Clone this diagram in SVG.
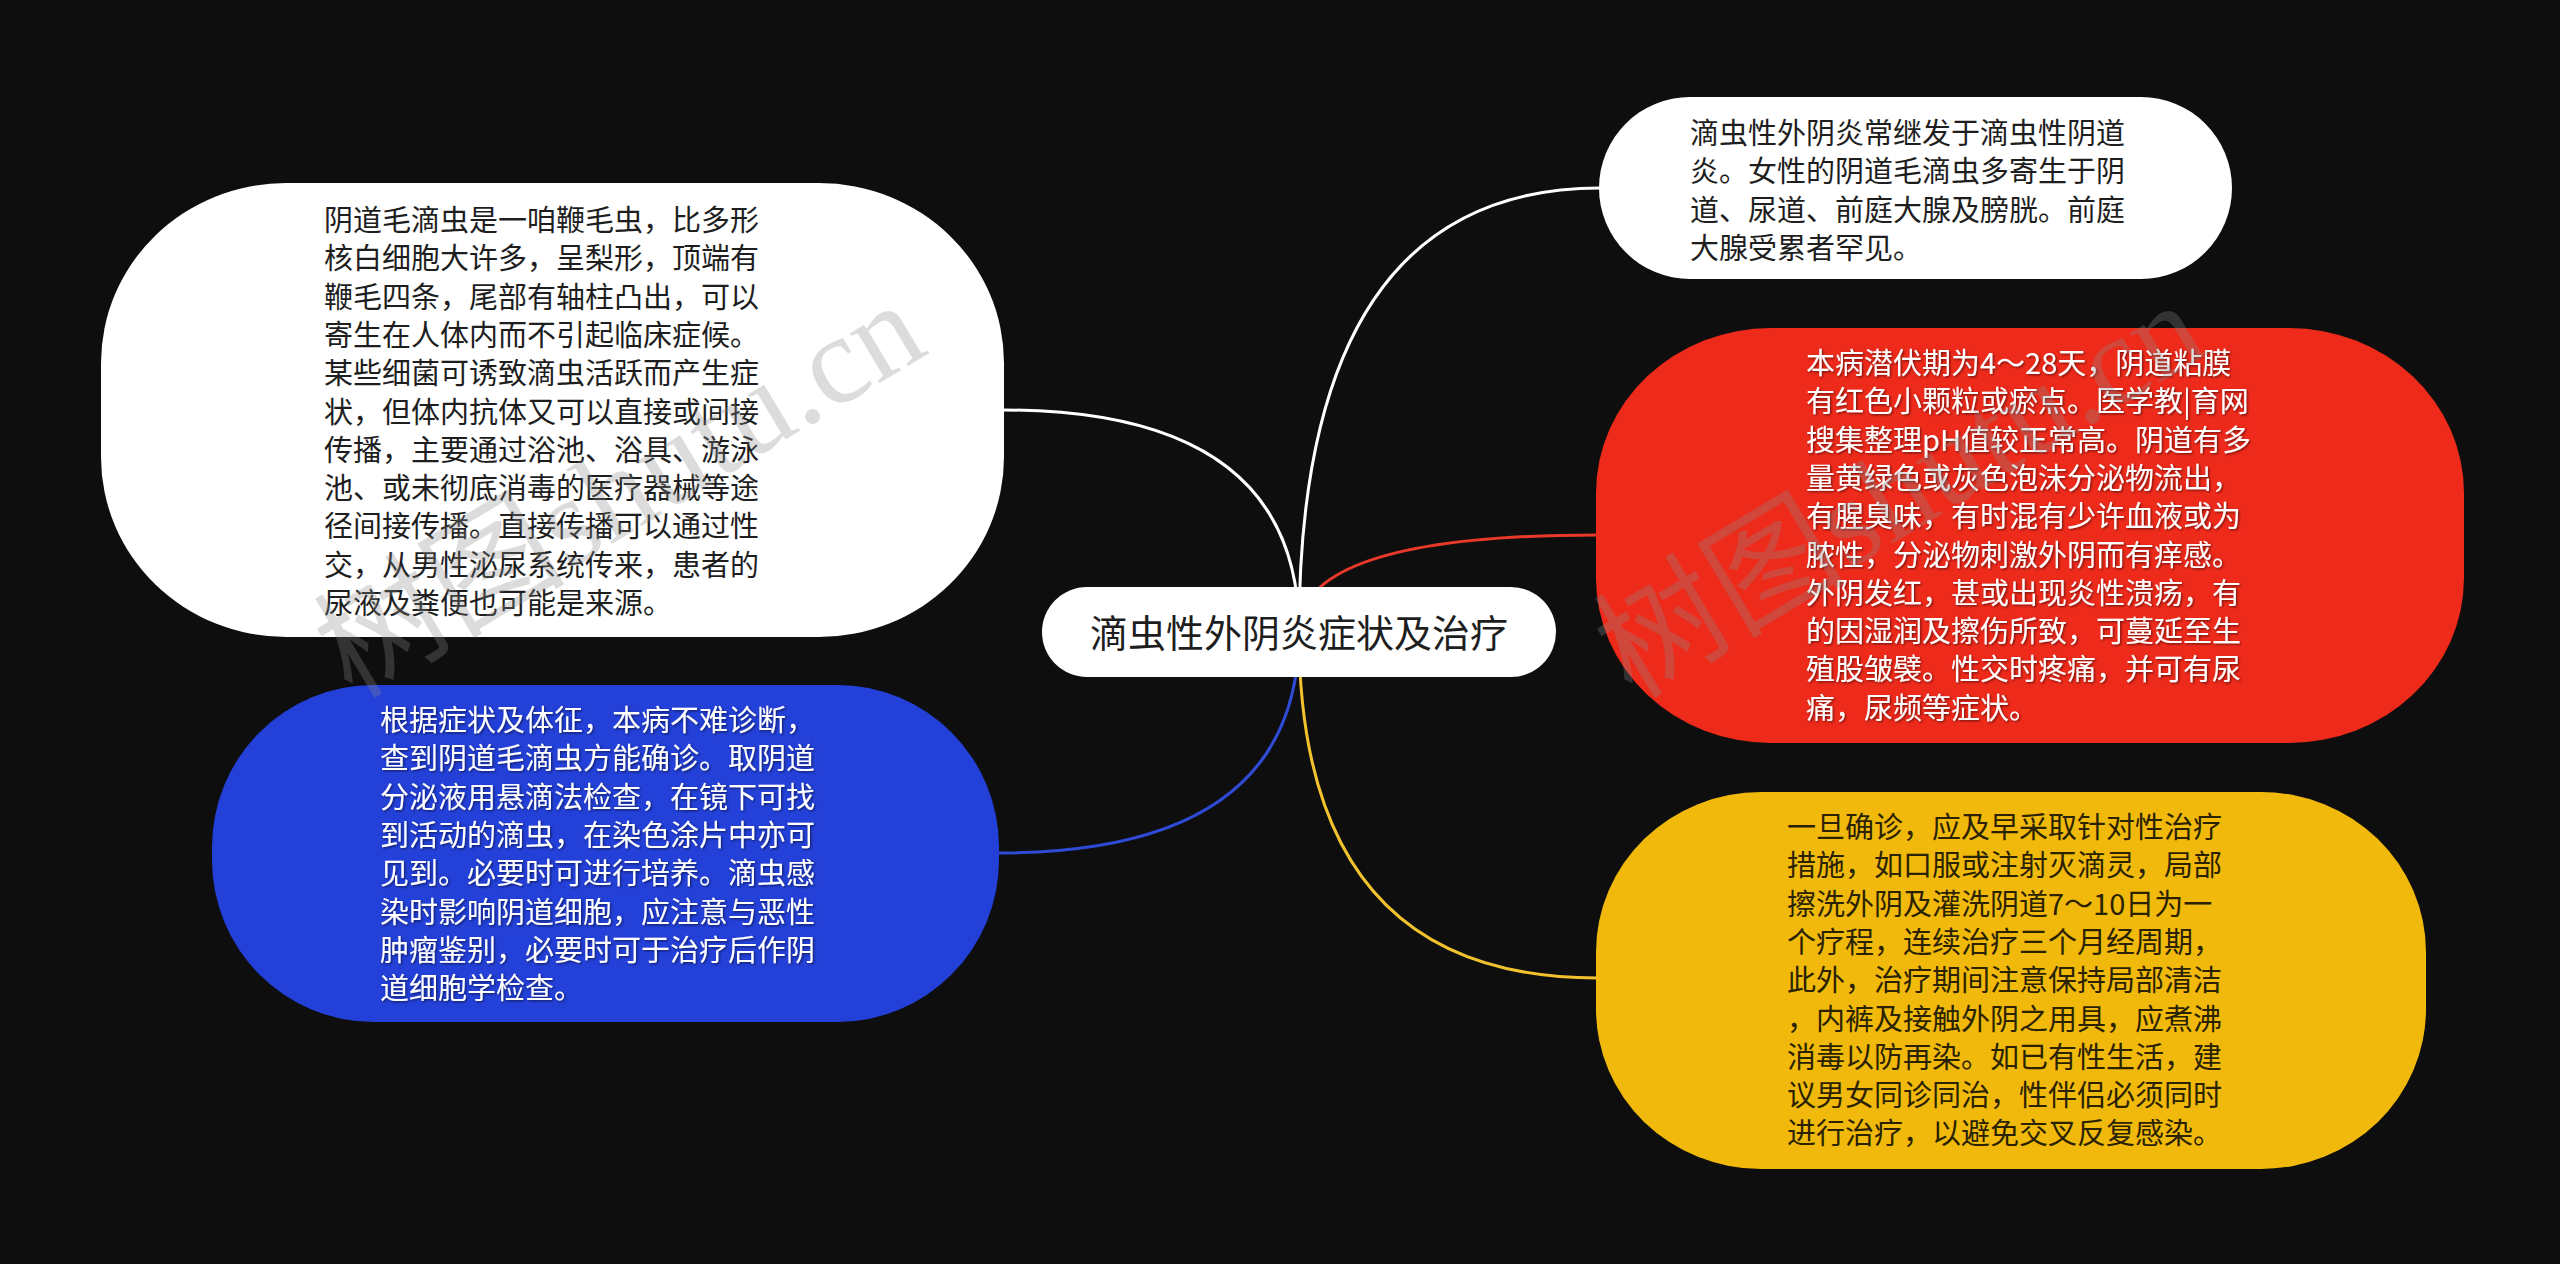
<svg xmlns="http://www.w3.org/2000/svg" width="2560" height="1264" viewBox="0 0 2560 1264">
<defs>
<style>
.bg{fill:#0e0e0e}
.conn{fill:none;stroke-width:3}
.t{font-family:"Noto Sans CJK SC","Noto Sans",sans-serif;font-size:29px}
.dark{fill:#1e1e1e}
.light{fill:#ffffff}
.wm{font-family:"Liberation Serif","Noto Sans CJK SC",serif;font-size:126px;fill:#8a8a8a;fill-opacity:0.3}
</style>
<filter id="sh" x="-5%" y="-5%" width="110%" height="110%">
<feDropShadow dx="1.2" dy="1.2" stdDeviation="0.8" flood-color="#000" flood-opacity="0.55"/>
</filter>
</defs>
<rect class="bg" x="0" y="0" width="2560" height="1264"/>
<g id="connectors">
<path class="conn" stroke="#ffffff" d="M1299,632 Q1299,188 1600,188"/>
<path class="conn" stroke="#ffffff" d="M1299,632 Q1299,410 1003,410"/>
<path class="conn" stroke="#e8392a" d="M1299,632 Q1299,535 1597,535"/>
<path class="conn" stroke="#2f4bd6" d="M1299,632 Q1299,853 998,853"/>
<path class="conn" stroke="#f2c12e" d="M1299,632 Q1299,978 1597,978"/>
</g>
<g id="center">
<rect x="1042" y="587" width="514" height="90" rx="45" fill="#ffffff"/>
<text x="1299" y="647" text-anchor="middle" font-family="Noto Sans CJK SC, Noto Sans, sans-serif" font-size="38" fill="#1e1e1e">滴虫性外阴炎症状及治疗</text>
</g>
<g id="node-left-top">
<rect x="101" y="183" width="903" height="454" rx="185" ry="180" fill="#ffffff"/>
<text class="t dark" x="324" y="231">
<tspan x="324">阴道毛滴虫是一咱鞭毛虫，比多形</tspan>
<tspan x="324" dy="38.3">核白细胞大许多，呈梨形，顶端有</tspan>
<tspan x="324" dy="38.3">鞭毛四条，尾部有轴柱凸出，可以</tspan>
<tspan x="324" dy="38.3">寄生在人体内而不引起临床症候。</tspan>
<tspan x="324" dy="38.3">某些细菌可诱致滴虫活跃而产生症</tspan>
<tspan x="324" dy="38.3">状，但体内抗体又可以直接或间接</tspan>
<tspan x="324" dy="38.3">传播，主要通过浴池、浴具、游泳</tspan>
<tspan x="324" dy="38.3">池、或未彻底消毒的医疗器械等途</tspan>
<tspan x="324" dy="38.3">径间接传播。直接传播可以通过性</tspan>
<tspan x="324" dy="38.3">交，从男性泌尿系统传来，患者的</tspan>
<tspan x="324" dy="38.3">尿液及粪便也可能是来源。</tspan>
</text>
</g>
<g id="node-left-bottom">
<rect x="212" y="685" width="787" height="337" rx="162" ry="162" fill="#2340d8"/>
<text class="t light" x="380" y="731" filter="url(#sh)">
<tspan x="380">根据症状及体征，本病不难诊断，</tspan>
<tspan x="380" dy="38.3">查到阴道毛滴虫方能确诊。取阴道</tspan>
<tspan x="380" dy="38.3">分泌液用悬滴法检查，在镜下可找</tspan>
<tspan x="380" dy="38.3">到活动的滴虫，在染色涂片中亦可</tspan>
<tspan x="380" dy="38.3">见到。必要时可进行培养。滴虫感</tspan>
<tspan x="380" dy="38.3">染时影响阴道细胞，应注意与恶性</tspan>
<tspan x="380" dy="38.3">肿瘤鉴别，必要时可于治疗后作阴</tspan>
<tspan x="380" dy="38.3">道细胞学检查。</tspan>
</text>
</g>
<g id="node-right-top">
<rect x="1599" y="97" width="633" height="182" rx="91" fill="#ffffff"/>
<text class="t dark" x="1690" y="144">
<tspan x="1690">滴虫性外阴炎常继发于滴虫性阴道</tspan>
<tspan x="1690" dy="38.3">炎。女性的阴道毛滴虫多寄生于阴</tspan>
<tspan x="1690" dy="38.3">道、尿道、前庭大腺及膀胱。前庭</tspan>
<tspan x="1690" dy="38.3">大腺受累者罕见。</tspan>
</text>
</g>
<g id="node-right-red">
<rect x="1596" y="328" width="868" height="415" rx="175" ry="165" fill="#ee2a1b"/>
<text class="t light" x="1806" y="374" filter="url(#sh)">
<tspan x="1806">本病潜伏期为4～28天，阴道粘膜</tspan>
<tspan x="1806" dy="38.3">有红色小颗粒或瘀点。医学教|育网</tspan>
<tspan x="1806" dy="38.3">搜集整理pH值较正常高。阴道有多</tspan>
<tspan x="1806" dy="38.3">量黄绿色或灰色泡沫分泌物流出，</tspan>
<tspan x="1806" dy="38.3">有腥臭味，有时混有少许血液或为</tspan>
<tspan x="1806" dy="38.3">脓性，分泌物刺激外阴而有痒感。</tspan>
<tspan x="1806" dy="38.3">外阴发红，甚或出现炎性溃疡，有</tspan>
<tspan x="1806" dy="38.3">的因湿润及擦伤所致，可蔓延至生</tspan>
<tspan x="1806" dy="38.3">殖股皱襞。性交时疼痛，并可有尿</tspan>
<tspan x="1806" dy="38.3">痛，尿频等症状。</tspan>
</text>
</g>
<g id="node-right-yellow">
<rect x="1596" y="792" width="830" height="377" rx="165" ry="160" fill="#f0b90c"/>
<text class="t" fill="#2a2200" x="1787" y="838">
<tspan x="1787">一旦确诊，应及早采取针对性治疗</tspan>
<tspan x="1787" dy="38.3">措施，如口服或注射灭滴灵，局部</tspan>
<tspan x="1787" dy="38.3">擦洗外阴及灌洗阴道7～10日为一</tspan>
<tspan x="1787" dy="38.3">个疗程，连续治疗三个月经周期，</tspan>
<tspan x="1787" dy="38.3">此外，治疗期间注意保持局部清洁</tspan>
<tspan x="1787" dy="38.3">，内裤及接触外阴之用具，应煮沸</tspan>
<tspan x="1787" dy="38.3">消毒以防再染。如已有性生活，建</tspan>
<tspan x="1787" dy="38.3">议男女同诊同治，性伴侣必须同时</tspan>
<tspan x="1787" dy="38.3">进行治疗，以避免交叉反复感染。</tspan>
</text>
</g>
<g id="watermarks">
<text class="wm" transform="translate(352,700) rotate(-31)">树图shutu.cn</text>
<text class="wm" transform="translate(1632,700) rotate(-31)">树图shutu.cn</text>
</g>
</svg>
